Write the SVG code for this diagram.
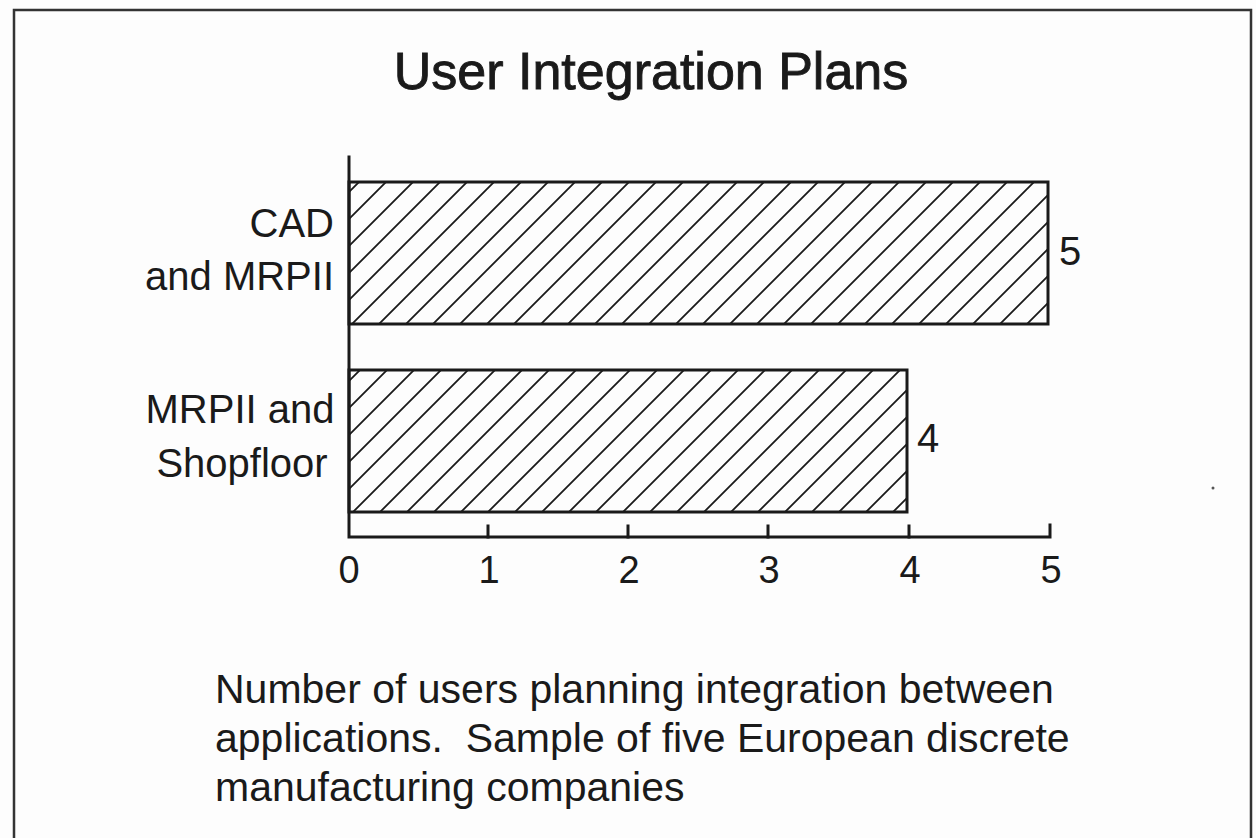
<svg xmlns="http://www.w3.org/2000/svg" width="1256" height="838" viewBox="0 0 1256 838">
  <defs>
    <!-- 45° diagonal hatch, lines along x+y = 27k + 1 -->
    <pattern id="hatch" patternUnits="userSpaceOnUse" x="1" y="0" width="27" height="27">
      <path d="M-2,2 L2,-2 M0,27 L27,0 M25,29 L29,25" stroke="#1a1a1a" stroke-width="1.8" fill="none"/>
    </pattern>
    <style>
      .txt { font-family: "Liberation Sans", Arial, Helvetica, sans-serif; fill: #1a1a1a; }
      .title { font-size: 52px; stroke: #1a1a1a; stroke-width: 0.9; }
      .cat { font-size: 40px; }
      .val { font-size: 40px; }
      .tick { font-size: 38px; text-anchor: middle; }
      .cap { font-size: 41px; }
      .bar { fill: url(#hatch); stroke: #1a1a1a; stroke-width: 3; }
      .axis { stroke: #1a1a1a; stroke-width: 3; fill: none; stroke-linecap: square; }
      .frame { stroke: #333; stroke-width: 2.5; fill: none; }
    </style>
  </defs>

  <rect width="1256" height="838" fill="#fdfdfd"/>

  <!-- outer frame, open at the bottom -->
  <path class="frame" d="M14,838 V10 H1251 V838"/>

  <text id="title" class="txt title" x="651" y="89" text-anchor="middle">User Integration Plans</text>

  <!-- axes and ticks -->
  <g id="connectors">
    <path class="axis" d="M349,157 V537 H1050 V525"/>
    <path class="axis" d="M488,537 V526 M628,537 V526 M768,537 V526 M909,537 V526"/>
  </g>

  <g id="bar-cad-mrpii">
    <rect class="bar" x="349" y="182" width="699" height="142"/>
    <text class="txt cat" x="334" y="237" text-anchor="end">CAD</text>
    <text class="txt cat" x="334" y="290" text-anchor="end">and MRPII</text>
    <text class="txt val" x="1059" y="265">5</text>
  </g>

  <g id="bar-mrpii-shopfloor">
    <rect class="bar" x="349" y="370" width="558" height="142"/>
    <text class="txt cat" x="240" y="423" text-anchor="middle">MRPII and</text>
    <text class="txt cat" x="242" y="477" text-anchor="middle">Shopfloor</text>
    <text class="txt val" x="917" y="452">4</text>
  </g>

  <g id="axis-labels">
    <text class="txt tick" x="349" y="583">0</text>
    <text class="txt tick" x="489" y="583">1</text>
    <text class="txt tick" x="629" y="583">2</text>
    <text class="txt tick" x="769" y="583">3</text>
    <text class="txt tick" x="910" y="583">4</text>
    <text class="txt tick" x="1051" y="583">5</text>
  </g>

  <g id="caption">
    <text class="txt cap" x="215" y="703" xml:space="preserve">Number of users planning integration between</text>
    <text class="txt cap" x="215" y="752" xml:space="preserve">applications.  Sample of five European discrete</text>
    <text class="txt cap" x="215" y="801" xml:space="preserve">manufacturing companies</text>
  </g>

  <!-- small speck at right -->
  <circle cx="1213" cy="488" r="1.5" fill="#555"/>
</svg>
